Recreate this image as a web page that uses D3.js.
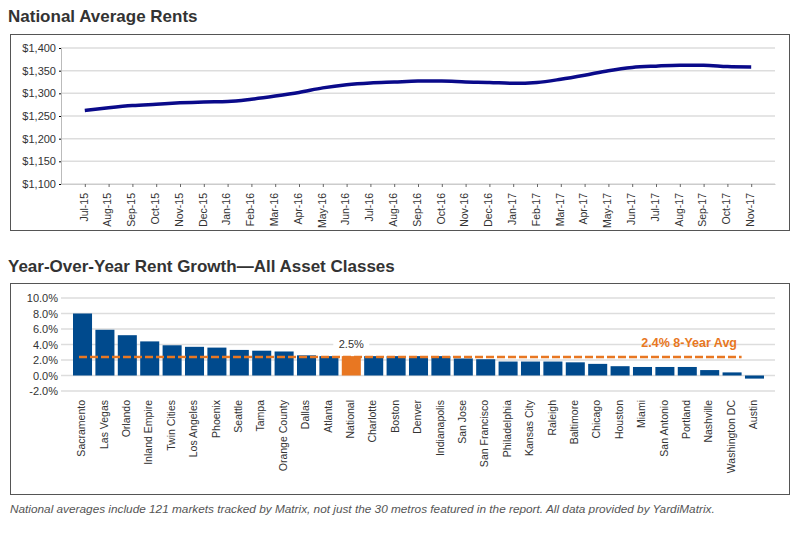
<!DOCTYPE html>
<html><head><meta charset="utf-8">
<script src="https://cdn.jsdelivr.net/npm/d3@7"></script>
<style>body{margin:0;background:#fff;font-family:Arial,"Liberation Sans",sans-serif}</style>
</head><body><svg id="c" width="800" height="538"></svg>
<script>
// top chart data
const months = ["Jul-15","Aug-15","Sep-15","Oct-15","Nov-15","Dec-15","Jan-16","Feb-16","Mar-16","Apr-16","May-16","Jun-16","Jul-16","Aug-16","Sep-16","Oct-16","Nov-16","Dec-16","Jan-17","Feb-17","Mar-17","Apr-17","May-17","Jun-17","Jul-17","Aug-17","Sep-17","Oct-17","Nov-17"];
const rents = [1262,1268,1273,1276,1279,1281,1282,1287,1294,1302,1312,1319,1323,1325,1327,1327,1325,1324,1322,1324,1331,1340,1350,1357,1360,1362,1362,1359,1358];
const rentTicks = [1100,1150,1200,1250,1300,1350,1400];
// bottom chart data
const metros = ["Sacramento","Las Vegas","Orlando","Inland Empire","Twin Cities","Los Angeles","Phoenix","Seattle","Tampa","Orange County","Dallas","Atlanta","National","Charlotte","Boston","Denver","Indianapolis","San Jose","San Francisco","Philadelphia","Kansas City","Raleigh","Baltimore","Chicago","Houston","Miami","San Antonio","Portland","Nashville","Washington DC","Austin"];
const growth = [8.0,5.9,5.2,4.4,3.9,3.7,3.6,3.3,3.2,3.1,2.6,2.5,2.5,2.5,2.5,2.5,2.5,2.2,2.1,1.8,1.8,1.8,1.7,1.5,1.2,1.1,1.1,1.1,0.7,0.4,-0.4];
const growthTicks = [-2,0,2,4,6,8,10];
const avg8 = 2.4;

const svg = d3.select("#c");
const txt = "#333";

// ---- top chart
svg.append("text").attr("x",8).attr("y",22).attr("font-size",17).attr("font-weight","bold").attr("fill",txt).text("National Average Rents");
svg.append("rect").attr("x",10.5).attr("y",34.5).attr("width",779).attr("height",196).attr("fill","none").attr("stroke","#555");

const x1 = d3.scalePoint().domain(months).range([61,775]).padding(1);
const y1 = d3.scaleLinear().domain([1100,1400]).range([184,48]);
const g1 = svg.append("g");
rentTicks.forEach(t=>{
  g1.append("line").attr("x1",61).attr("x2",775).attr("y1",y1(t)).attr("y2",y1(t)).attr("stroke","#ddd").attr("stroke-width",1.5);
});
g1.append("g").attr("transform","translate(61,0)")
  .call(d3.axisLeft(y1).tickValues(rentTicks).tickSize(2).tickFormat(d=>"$"+d3.format(",")(d)))
  .call(a=>{a.select(".domain").attr("stroke","#bbb");a.selectAll("text").attr("font-size",11).attr("fill",txt).attr("font-family","Arial")});
g1.append("g").attr("transform","translate(0,184)")
  .call(d3.axisBottom(x1).tickSize(3).tickSizeOuter(0))
  .call(a=>{a.select(".domain").attr("stroke","#ccc");a.selectAll("line").attr("stroke","#666");
    a.selectAll("text").attr("font-size",10.5).attr("fill",txt).attr("font-family","Arial")
     .attr("transform","rotate(-90)").attr("text-anchor","end").attr("dx","-6").attr("dy","-0.05em").attr("y",0).attr("x",-3)
     .style("dominant-baseline","middle");});
g1.append("path").datum(rents).attr("fill","none").attr("stroke","#0a0a8a").attr("stroke-width",3.5)
  .attr("d",d3.line().x((d,i)=>x1(months[i])).y(d=>y1(d)).curve(d3.curveMonotoneX));

// ---- bottom chart
svg.append("text").attr("x",8).attr("y",272).attr("font-size",17).attr("font-weight","bold").attr("fill",txt).text("Year-Over-Year Rent Growth\u2014All Asset Classes");
svg.append("rect").attr("x",10.5).attr("y",283.5).attr("width",779).attr("height",211).attr("fill","none").attr("stroke","#555");

const x2 = d3.scaleBand().domain(metros).range([73,764]).paddingInner(0.15);
const y2 = d3.scaleLinear().domain([-2,10]).range([391,298]);
const g2 = svg.append("g");
growthTicks.forEach(t=>{
  g2.append("line").attr("x1",61).attr("x2",775).attr("y1",y2(t)).attr("y2",y2(t)).attr("stroke","#ddd").attr("stroke-width",1.5);
});
g2.append("g").attr("transform","translate(61,0)")
  .call(d3.axisLeft(y2).tickValues(growthTicks).tickSize(0).tickPadding(3).tickFormat(d=>d.toFixed(1)+"%"))
  .call(a=>{a.select(".domain").remove();a.selectAll("text").attr("font-size",11).attr("fill",txt).attr("font-family","Arial")});
g2.selectAll("rect.bar").data(growth).enter().append("rect").attr("class","bar")
  .attr("x",(d,i)=>x2(metros[i])).attr("width",x2.bandwidth())
  .attr("y",d=>y2(Math.max(0,d))).attr("height",d=>Math.abs(y2(d)-y2(0)))
  .attr("fill",(d,i)=>metros[i]==="National"?"#e87722":"#004a8d");
g2.append("line").attr("x1",x2(metros[0])+6).attr("x2",x2("Washington DC")+x2.bandwidth())
  .attr("y1",y2(avg8)).attr("y2",y2(avg8)).attr("stroke","#e87722").attr("stroke-width",2.5).attr("stroke-dasharray","8,3");
const nx = x2("National")+x2.bandwidth()/2;
g2.append("rect").attr("x",nx-18).attr("y",337).attr("width",36).attr("height",14).attr("fill","#fff");
g2.append("text").attr("x",nx).attr("y",348).attr("text-anchor","middle").attr("font-size",11).attr("fill",txt).text("2.5%");
g2.append("text").attr("x",737).attr("y",347).attr("text-anchor","end").attr("font-size",12.5).attr("font-weight","bold").attr("fill","#e87722").text("2.4% 8-Year Avg");
g2.append("g").attr("transform","translate(0,396)")
  .call(d3.axisBottom(x2).tickSize(0))
  .call(a=>{a.select(".domain").remove();
    a.selectAll("text").attr("font-size",10.5).attr("fill",txt).attr("font-family","Arial")
     .attr("transform","rotate(-90)").attr("text-anchor","end").attr("x",-4).attr("y",0).attr("dy",0)
     .style("dominant-baseline","middle");});

svg.append("text").attr("x",10).attr("y",513).attr("font-size",11.8).attr("font-style","italic").attr("fill","#555")
  .text("National averages include 121 markets tracked by Matrix, not just the 30 metros featured in the report. All data provided by YardiMatrix.");
</script></body></html>
